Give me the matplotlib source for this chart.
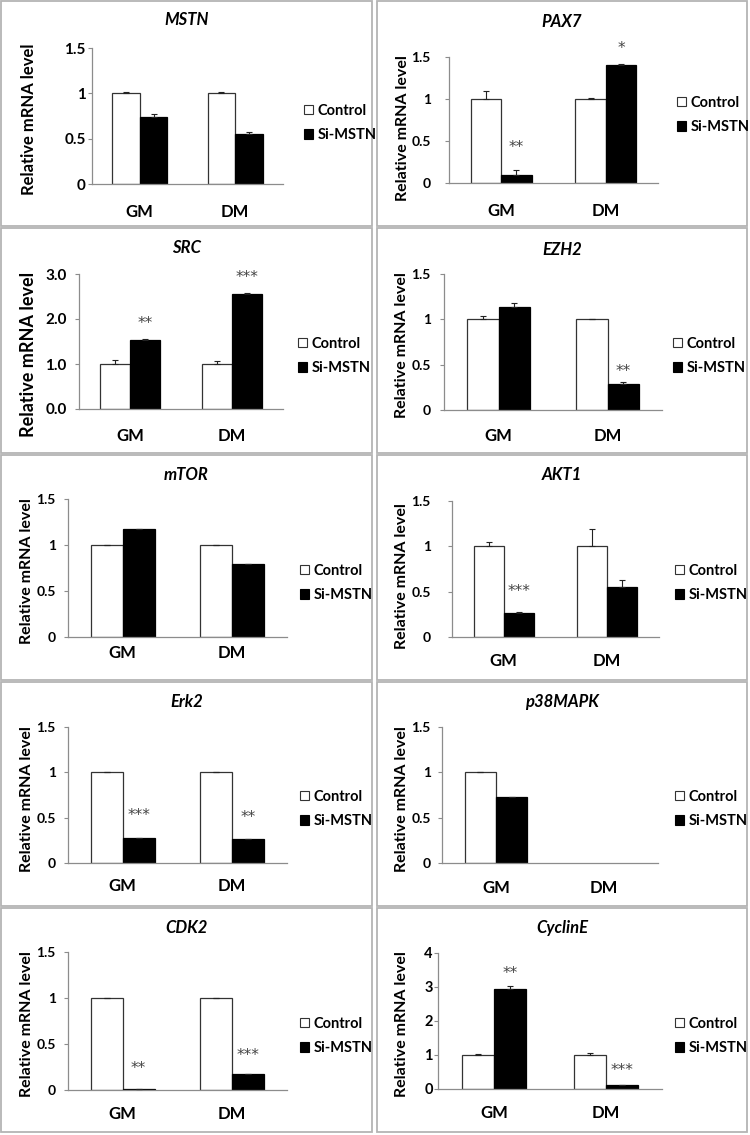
import numpy as np
import matplotlib
matplotlib.use("Agg")
import matplotlib.pyplot as plt
from matplotlib.patches import Rectangle, Patch

plt.rcParams['font.family'] = ['Lato', 'DejaVu Sans']

# ---------------- data ----------------
groups = ["GM", "DM"]
series_names = ["Control", "Si-MSTN"]
genes = ["MSTN", "PAX7", "SRC", "EZH2", "mTOR", "AKT1", "Erk2", "p38MAPK", "CDK2", "CyclinE"]

control_vals = [
    [1.00, 1.00], [1.00, 1.00], [1.00, 1.00], [1.00, 1.00], [1.00, 1.00],
    [1.00, 1.00], [1.00, 1.00], [1.00, np.nan], [1.00, 1.00], [1.00, 1.00],
]
control_err = [
    [0.02, 0.01], [0.10, 0.01], [0.08, 0.07], [0.04, 0.0], [0.005, 0.005],
    [0.05, 0.19], [0.0, 0.0], [0.005, np.nan], [0.0, 0.0], [0.04, 0.06],
]
simstn_vals = [
    [0.74, 0.55], [0.09, 1.40], [1.54, 2.55], [1.14, 0.29], [1.17, 0.79],
    [0.27, 0.55], [0.28, 0.26], [0.73, np.nan], [0.01, 0.17], [2.95, 0.12],
]
simstn_err = [
    [0.03, 0.02], [0.06, 0.02], [0.02, 0.02], [0.04, 0.02], [0.0, 0.0],
    [0.01, 0.08], [0.0, 0.0], [0.0, np.nan], [0.0, 0.0], [0.07, 0.0],
]
# significance labels (above Si-MSTN bars) and their heights
stars = [
    ["", ""], ["**", "*"], ["**", "***"], ["", "**"], ["", ""],
    ["***", ""], ["***", "**"], ["", ""], ["**", "***"], ["**", "***"],
]
star_y = [
    [0, 0], [0.42, 1.60], [1.89, 2.93], [0, 0.43], [0, 0],
    [0.50, 0], [0.52, 0.50], [0, 0], [0.23, 0.38], [3.41, 0.53],
]
ymax = [1.5, 1.5, 3.0, 1.5, 1.5, 1.5, 1.5, 1.5, 1.5, 4.0]
yticks = [
    [0, 0.5, 1, 1.5], [0, 0.5, 1, 1.5], [0, 1, 2, 3], [0, 0.5, 1, 1.5], [0, 0.5, 1, 1.5],
    [0, 0.5, 1, 1.5], [0, 0.5, 1, 1.5], [0, 0.5, 1, 1.5], [0, 0.5, 1, 1.5], [0, 1, 2, 3, 4],
]
ytick_labels = [
    ["0", "0.5", "1", "1.5"], ["0", "0.5", "1", "1.5"], ["0.0", "1.0", "2.0", "3.0"],
    ["0", "0.5", "1", "1.5"], ["0", "0.5", "1", "1.5"], ["0", "0.5", "1", "1.5"],
    ["0", "0.5", "1", "1.5"], ["0", "0.5", "1", "1.5"], ["0", "0.5", "1", "1.5"],
    ["0", "1", "2", "3", "4"],
]

# ---------------- layout (figure pixels, top-left origin) ----------------
W, H = 750, 1135
# axes: left, right, bottom(y=0), top(ymax)
axes_px = [
    (92, 283, 184, 48), (449, 658, 183, 57),
    (79, 283, 409, 274), (444, 662, 410, 274),
    (68, 287, 637, 499), (452, 659, 637, 501),
    (68, 287, 863, 727), (442, 658, 863, 727),
    (68, 287, 1090, 952), (438, 662, 1089, 953),
]
ytick_right_px = [87, 432, 68, 432, 57, 432, 57, 432, 57, 434]
ytick_size = [11, 10, 11, 10, 10, 10, 10, 10, 10, 10.5]
xlabel_off_px = [27, 27, 26, 25, 15, 23, 22, 24, 23, 23]
legend_px = [(304, 123), (677, 115), (298, 356), (673, 356), (300, 583),
             (675, 583), (300, 809), (675, 809), (300, 1036), (675, 1036)]
ylabel_px = [(29, 119), (403, 128), (29, 354), (402, 345), (27, 571),
             (402, 576), (27, 799), (402, 799), (27, 1024), (402, 1024)]
ylabel_size = [12, 11.5, 13, 11.5, 11.5, 11.5, 11.5, 11.5, 11.5, 11.5]
title_y = [20, 22, 248, 250, 475, 475, 702, 702, 928, 928]
col_x = [(1, 372), (377, 747)]
row_y = [(1, 226), (228, 453), (455, 680), (682, 906), (908, 1132)]

fig = plt.figure(figsize=(W / 100, H / 100), dpi=100)
fig.patch.set_facecolor("white")

# panel borders
for r in range(5):
    for c in range(2):
        x0, x1 = col_x[c]
        y0, y1 = row_y[r]
        fig.add_artist(Rectangle((x0 / W, 1 - y1 / H), (x1 - x0) / W, (y1 - y0) / H,
                                 transform=fig.transFigure, fill=False,
                                 edgecolor="#b4b4b4", linewidth=1.3))

axis_col = "#8c8c8c"
bw = 0.29
x = np.arange(len(groups))
px2pt = 0.72

for i, g in enumerate(genes):
    L, R, B, T = axes_px[i]
    ax = fig.add_axes([L / W, 1 - B / H, (R - L) / W, (B - T) / H])
    cv = np.array(control_vals[i], dtype=float)
    ce = np.array(control_err[i], dtype=float)
    sv = np.array(simstn_vals[i], dtype=float)
    se = np.array(simstn_err[i], dtype=float)
    m = ~np.isnan(cv)
    ax.bar(x[m] - bw / 2, cv[m], width=bw, color="white", edgecolor="#333333", linewidth=0.9, zorder=2)
    ax.bar(x[m] + bw / 2, sv[m], width=bw, color="black", edgecolor="black", linewidth=0.9, zorder=2)
    ax.errorbar(x[m] - bw / 2, cv[m], yerr=[np.zeros(m.sum()), ce[m]], fmt="none",
                ecolor="#222222", elinewidth=0.8, capsize=2.5, capthick=0.8, zorder=3)
    ax.errorbar(x[m] + bw / 2, sv[m], yerr=[np.zeros(m.sum()), se[m]], fmt="none",
                ecolor="#222222", elinewidth=0.8, capsize=2.5, capthick=0.8, zorder=3)
    for j in range(len(groups)):
        if stars[i][j]:
            ax.text(x[j] + bw / 2, star_y[i][j], stars[i][j], ha="center", va="center",
                    fontsize=11, color="#444444", family="DejaVu Sans")
    ax.set_xlim(-0.5, 1.5)
    ax.set_ylim(0, ymax[i])
    ax.set_yticks(yticks[i])
    ax.set_yticklabels(ytick_labels[i], fontsize=ytick_size[i], fontweight="bold")
    ax.set_xticks(x)
    ax.set_xticklabels(groups, fontsize=12, fontweight="bold")
    ax.tick_params(axis="x", length=0, pad=max(xlabel_off_px[i] - 7, 1) * px2pt)
    ypad = max(L - ytick_right_px[i] - 3, 1) * px2pt
    ax.tick_params(axis="y", length=3, width=0.8, color=axis_col, pad=ypad)
    for s in ["top", "right"]:
        ax.spines[s].set_visible(False)
    for s in ["left", "bottom"]:
        ax.spines[s].set_color(axis_col)
        ax.spines[s].set_linewidth(0.9)
    ax.patch.set_alpha(0)

    handles = [Patch(facecolor="white", edgecolor="#333333", linewidth=0.8),
               Patch(facecolor="black", edgecolor="black", linewidth=0.8)]
    lx, ly = legend_px[i]
    fig.legend(handles, series_names, loc="center left",
               bbox_to_anchor=(lx / W, 1 - ly / H), bbox_transform=fig.transFigure,
               frameon=False, prop={"weight": "bold", "size": 10.5},
               handlelength=0.65, handleheight=0.65, handletextpad=0.3,
               labelspacing=0.75, borderpad=0, borderaxespad=0)

    yx, yy = ylabel_px[i]
    fig.text(yx / W, 1 - yy / H, "Relative mRNA level", rotation=90, ha="center", va="center",
             fontsize=ylabel_size[i], fontweight="bold")
    cx = (col_x[i % 2][0] + col_x[i % 2][1]) / 2
    fig.text(cx / W, 1 - title_y[i] / H, g, ha="center", va="center",
             fontsize=12, fontweight="bold", style="italic")

fig.savefig("out.png", dpi=100, facecolor="white")
